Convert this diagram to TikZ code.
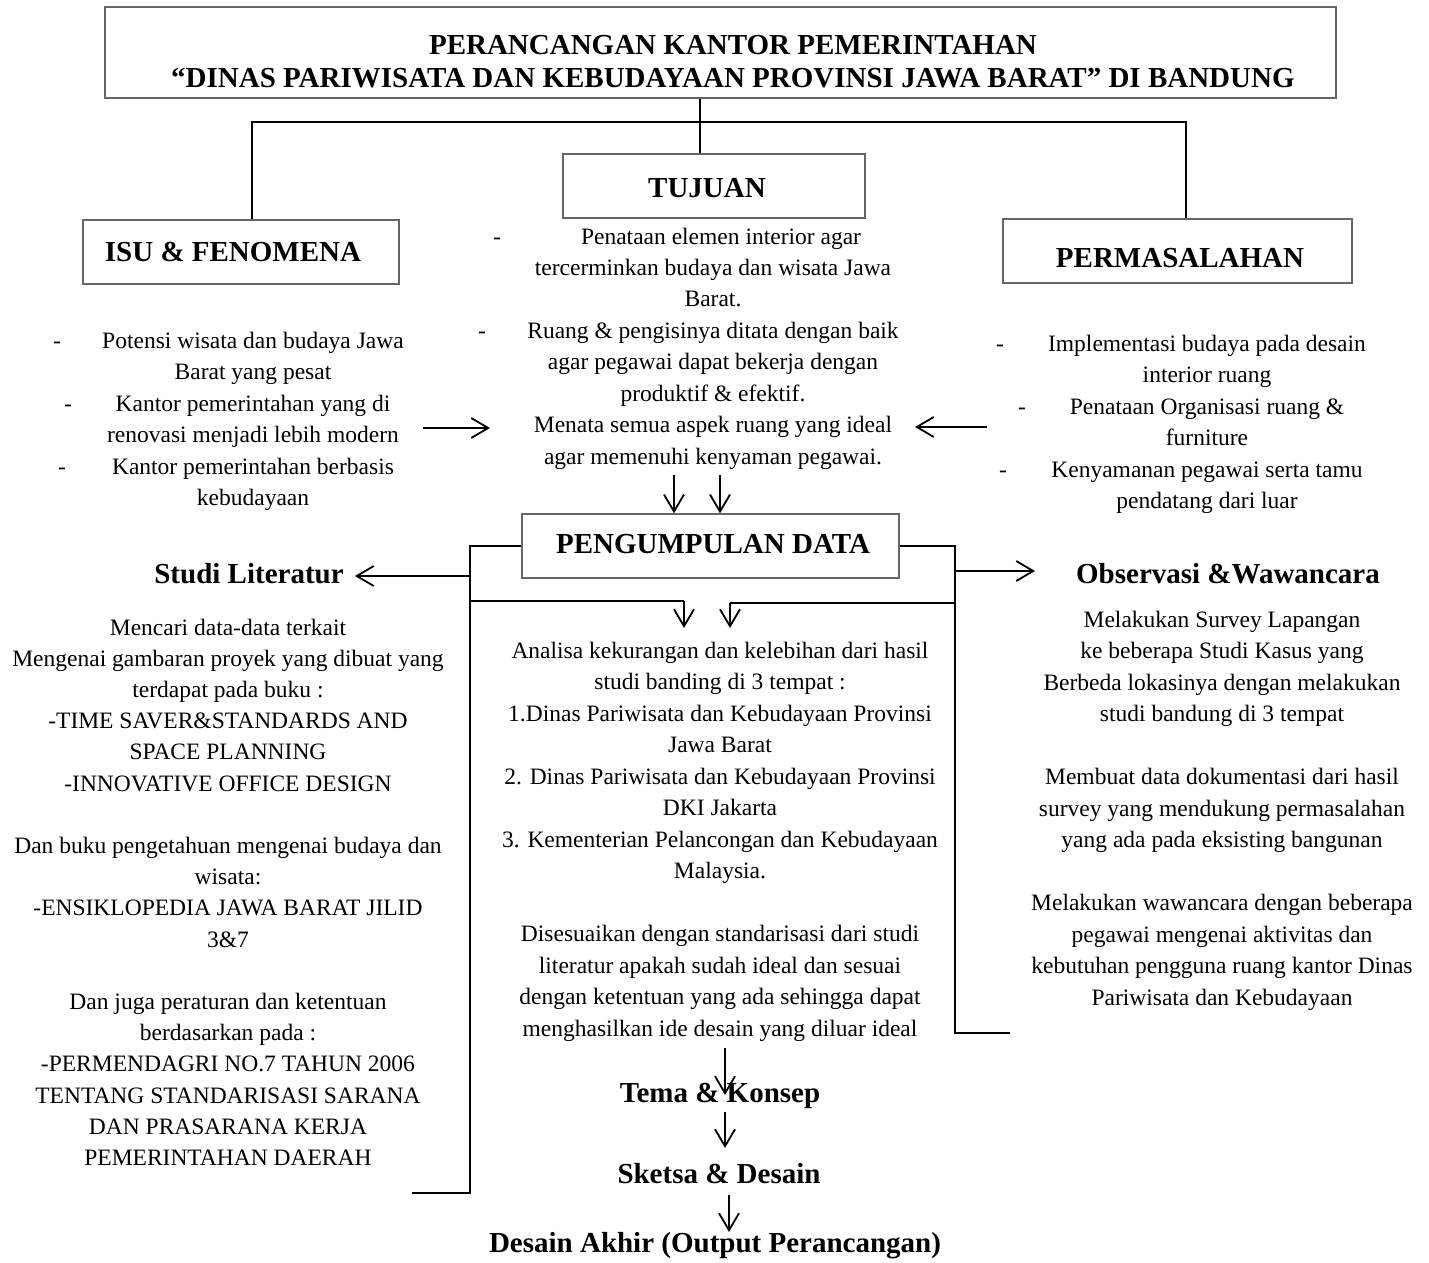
\documentclass[tikz,border=0pt]{standalone}
\usepackage{fontspec}
\setmainfont{Liberation Serif}
\usetikzlibrary{arrows.meta}
\begin{document}
\begin{tikzpicture}[x=1pt,y=-1pt,
  boxs/.style={draw=black!60,line width=1.4pt,inner sep=0,minimum height=64pt},
  body/.style={font=\fontsize{23.5}{31.5}\selectfont,align=center,inner sep=0,anchor=north},
  bodyline/.style={font=\fontsize{23.5}{31.5}\selectfont,inner sep=0,anchor=base},
  head/.style={font=\fontsize{29}{35}\selectfont\bfseries,inner sep=0,anchor=base},
  conn/.style={line width=1.8pt,black},
  arr/.style={conn,-{Straight Barb[length=17pt,width=20pt,line width=1.8pt]}},
]
\useasboundingbox (0,0) rectangle (1429,1263);

% ---- boxes and headings
\node[boxs,minimum width=1231pt,minimum height=91pt] (titlebox) at (720.5,52.5) {};
\node[head] (title1) at (733,55) {PERANCANGAN KANTOR PEMERINTAHAN};
\node[head] (title2) at (733,88) {“DINAS PARIWISATA DAN KEBUDAYAAN PROVINSI JAWA BARAT” DI BANDUNG};

\node[boxs,minimum width=316pt] (isubox) at (241,252) {};
\node[head] (isu) at (233,261) {ISU \& FENOMENA};
\node[boxs,minimum width=302pt] (tujbox) at (714,186) {};
\node[head] (tuj) at (707,197) {TUJUAN};
\node[boxs,minimum width=349pt] (permbox) at (1177.5,251) {};
\node[head] (perm) at (1180,267) {PERMASALAHAN};
\node[boxs,minimum width=377pt] (pdbox) at (710.5,546) {};
\node[head] (pd) at (713,553) {PENGUMPULAN DATA};

% ---- top connectors
\coordinate (jc) at (700,122);
\coordinate (jl) at (252,122);
\coordinate (jr) at (1186,122);
\draw[conn] (jc |- titlebox.south) -- (jc |- tujbox.north);
\draw[conn] (jl |- isubox.north) -- (jl) -- (jr) -- (jr |- permbox.north);

% ---- Tujuan text
\node[bodyline] (t1) at (721,244) {Penataan elemen interior agar};
\node[body] (tujtext) at (713,253) {\strut tercerminkan budaya dan wisata Jawa\\
Barat.\\
Ruang \& pengisinya ditata dengan baik\\
agar pegawai dapat bekerja dengan\\
produktif \& efektif.\\
Menata semua aspek ruang yang ideal\\
agar memenuhi kenyaman pegawai.};
\node[bodyline] (td1) at (497,244) {-};
\node[bodyline] (td2) at (482,338) {-};

% ---- Isu text
\node[body] (isutext) at (253,326) {\strut Potensi wisata dan budaya Jawa\\
Barat yang pesat\\
Kantor pemerintahan yang di\\
renovasi menjadi lebih modern\\
Kantor pemerintahan berbasis\\
kebudayaan};
\node[bodyline] (id1) at (57,348) {-};
\node[bodyline] (id2) at (68,411) {-};
\node[bodyline] (id3) at (62,474) {-};

% ---- Permasalahan text
\node[body] (permtext) at (1207,329) {\strut Implementasi budaya pada desain\\
interior ruang\\
Penataan Organisasi ruang \&\\
furniture\\
Kenyamanan pegawai serta tamu\\
pendatang dari luar};
\node[bodyline] (pd1) at (1000,351) {-};
\node[bodyline] (pd2) at (1022,414) {-};
\node[bodyline] (pd3) at (1003,477) {-};

% ---- side arrows into Tujuan
\coordinate (al1) at (423,428);
\coordinate (al2) at (490,428);
\coordinate (ar1) at (987,427);
\coordinate (ar2) at (915,427);
\draw[arr] (al1) -- (al2);
\draw[arr] (ar1) -- (ar2);

% ---- down arrows into Pengumpulan Data
\coordinate (dd1) at (674,475);
\coordinate (dd2) at (720,475);
\draw[arr] (dd1) -- (dd1 |- pdbox.north);
\draw[arr] (dd2) -- (dd2 |- pdbox.north);

% ---- left branch
\node[head] (studi) at (249,583) {Studi Literatur};
\coordinate (lv) at (470,1193);
\coordinate (lb) at (412,1193);
\draw[conn] (pdbox.west) -| (lv) -- (lb);
\coordinate (lsa) at (470,576);
\coordinate (lst) at (355,576);
\draw[arr] (lsa) -- (lst);
\coordinate (lm1) at (470,601);
\coordinate (lm2) at (684,601);
\coordinate (lm3) at (684,628);
\draw[conn] (lm1) -- (lm2);
\draw[arr] (lm2) -- (lm3);

\node[body,font=\fontsize{23.5}{31.2}\selectfont] (studitext) at (228,613) {\strut Mencari data-data terkait\\
Mengenai gambaran proyek yang dibuat yang\\
terdapat pada buku :\\
-TIME SAVER\&STANDARDS AND\\
SPACE PLANNING\\
-INNOVATIVE OFFICE DESIGN\\
\mbox{}\\
Dan buku pengetahuan mengenai budaya dan\\
wisata:\\
-ENSIKLOPEDIA JAWA BARAT JILID\\
3\&7\\
\mbox{}\\
Dan juga peraturan dan ketentuan\\
berdasarkan pada :\\
-PERMENDAGRI NO.7 TAHUN 2006\\
TENTANG STANDARISASI SARANA\\
DAN PRASARANA KERJA\\
PEMERINTAHAN DAERAH};

% ---- right branch
\node[head] (obs) at (1228,583) {Observasi \&Wawancara};
\coordinate (rv) at (955,1033);
\coordinate (rb) at (1010,1033);
\draw[conn] (pdbox.east) -| (rv) -- (rb);
\coordinate (rsa) at (955,571);
\coordinate (rst) at (1035,571);
\draw[arr] (rsa) -- (rst);
\coordinate (rm1) at (955,603);
\coordinate (rm2) at (730,603);
\coordinate (rm3) at (730,628);
\draw[conn] (rm1) -- (rm2);
\draw[arr] (rm2) -- (rm3);

\node[body] (obstext) at (1222,605) {\strut Melakukan Survey Lapangan\\
ke beberapa Studi Kasus yang\\
Berbeda lokasinya dengan melakukan\\
studi bandung di 3 tempat\\
\mbox{}\\
Membuat data dokumentasi dari hasil\\
survey yang mendukung permasalahan\\
yang ada pada eksisting bangunan\\
\mbox{}\\
Melakukan wawancara dengan beberapa\\
pegawai mengenai aktivitas dan\\
kebutuhan pengguna ruang kantor Dinas\\
Pariwisata dan Kebudayaan};

% ---- middle text
\node[body] (midtext) at (720,636) {\strut Analisa kekurangan dan kelebihan dari hasil\\
studi banding di 3 tempat :\\
1.Dinas Pariwisata dan Kebudayaan Provinsi\\
Jawa Barat\\
2. Dinas Pariwisata dan Kebudayaan Provinsi\\
DKI Jakarta\\
3. Kementerian Pelancongan dan Kebudayaan\\
Malaysia.\\
\mbox{}\\
Disesuaikan dengan standarisasi dari studi\\
literatur apakah sudah ideal dan sesuai\\
dengan ketentuan yang ada sehingga dapat\\
menghasilkan ide desain yang diluar ideal};

% ---- bottom chain
\node[head] (tema) at (720,1102) {Tema \& Konsep};
\node[head] (sketsa) at (719,1183) {Sketsa \& Desain};
\node[head] (akhir) at (715,1252) {Desain Akhir (Output Perancangan)};
\coordinate (b1s) at (725,1048);
\coordinate (b1e) at (725,1095);
\coordinate (b2s) at (725,1112);
\coordinate (b2e) at (725,1148);
\coordinate (b3s) at (729,1195);
\coordinate (b3e) at (729,1232);
\draw[arr] (b1s) -- (b1e);
\draw[arr] (b2s) -- (b2e);
\draw[arr] (b3s) -- (b3e);
\end{tikzpicture}
\end{document}
